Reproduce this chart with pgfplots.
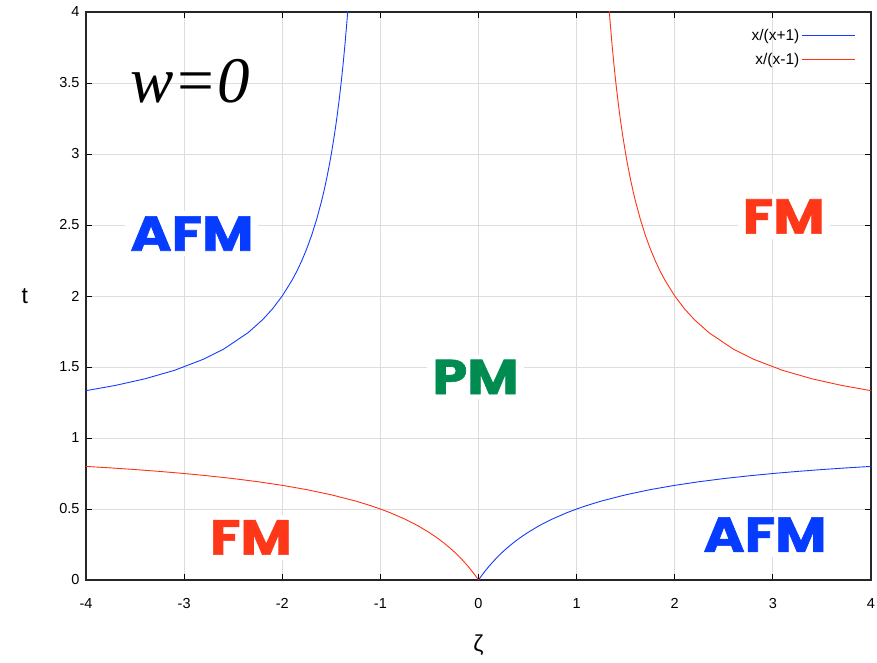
\documentclass[border=0pt]{standalone}
\usepackage{fontspec}
\setmainfont{Liberation Sans}
\newfontfamily\geo{Poppins}[BoldFeatures={FakeBold=1.2}]
\newfontfamily\tms{Liberation Serif}
\usepackage{pgfplots}
\pgfplotsset{compat=1.18}
\definecolor{cblue}{RGB}{20,60,255}
\definecolor{cred}{RGB}{255,50,20}
\definecolor{tblue}{RGB}{5,60,255}
\definecolor{tred}{RGB}{255,55,25}
\definecolor{tgreen}{RGB}{0,140,80}
\newcommand{\reg}[1]{\scalebox{1.14}[1]{#1}}
\begin{document}
\begin{tikzpicture}
\path[use as bounding box] (-86pt,-82pt) rectangle (791pt,580pt);
\begin{axis}[
  scale only axis, width=785pt, height=568pt,
  xmin=-4, xmax=4, ymin=0, ymax=4,
  xtick={-4,-3,...,4}, ytick={0,0.5,...,4},
  /pgf/number format/assume math mode=true,
  tick label style={font=\fontsize{14.5}{16}\selectfont},
  xticklabel style={yshift=-15pt},
  yticklabel style={/pgf/number format/fixed, xshift=-3pt},
  grid=major, major grid style={draw=black!13, line width=0.8pt},
  tick align=inside, major tick length=6pt,
  tick style={black, line width=0.8pt},
  axis line style={line width=1.6pt, black!85},
  xlabel={ζ}, ylabel={t},
  xlabel style={font=\fontsize{23}{25}\selectfont, at={(axis description cs:0.5,-0.114)}, anchor=center},
  ylabel style={font=\fontsize{23}{25}\selectfont, at={(axis description cs:-0.078,0.5)}, anchor=center, rotate=-90},
  legend plot pos=right,
  legend style={draw=none, fill=none, at={(axis description cs:0.984,0.977)}, anchor=north east,
     font=\fontsize{15.5}{17}\selectfont, row sep=7pt, cells={anchor=east}},
  legend image code/.code={\path (0pt,0pt) -- (53pt,0pt); \draw[#1, line width=0.8pt] (9pt,0pt) -- (53pt,0pt);},
  clip=true,
]
\addplot[cblue, line width=0.9pt] coordinates {
(-4,1.3333)(-3.7,1.3704)(-3.4,1.4167)(-3.1,1.4762)(-2.8,1.5556)(-2.6,1.625)(-2.35,1.7407)(-2.2,1.8333)(-2.1,1.9091)(-2,2)(-1.9,2.1111)(-1.85,2.1765)(-1.8,2.25)(-1.75,2.3333)(-1.7,2.4286)(-1.65,2.5385)(-1.6,2.6667)(-1.58,2.7241)(-1.55,2.8182)(-1.52,2.9231)(-1.5,3)(-1.47,3.1277)(-1.45,3.2222)(-1.44,3.2727)(-1.42,3.381)(-1.4,3.5)(-1.38,3.6316)(-1.36,3.7778)(-1.34,3.9412)(-1.3333,4)(-1.32,4.125)};
\addlegendentry{x/(x+1)}
\addplot[cred, line width=0.9pt] coordinates {
(1.32,4.125)(1.3333,4)(1.34,3.9412)(1.36,3.7778)(1.38,3.6316)(1.4,3.5)(1.42,3.381)(1.44,3.2727)(1.45,3.2222)(1.47,3.1277)(1.5,3)(1.52,2.9231)(1.55,2.8182)(1.58,2.7241)(1.6,2.6667)(1.65,2.5385)(1.7,2.4286)(1.75,2.3333)(1.8,2.25)(1.85,2.1765)(1.9,2.1111)(2,2)(2.1,1.9091)(2.2,1.8333)(2.35,1.7407)(2.6,1.625)(2.8,1.5556)(3.1,1.4762)(3.4,1.4167)(3.7,1.3704)(4,1.3333)};
\addlegendentry{x/(x-1)}
\addplot[cblue, line width=0.9pt, forget plot] coordinates {
(0,0)(0.005,0.005)(0.01,0.0099)(0.02,0.0196)(0.03,0.0291)(0.05,0.0476)(0.07,0.0654)(0.1,0.0909)(0.15,0.1304)(0.2,0.1667)(0.25,0.2)(0.3,0.2308)(0.35,0.2593)(0.4,0.2857)(0.45,0.3103)(0.5,0.3333)(0.6,0.375)(0.65,0.3939)(0.75,0.4286)(0.9,0.4737)(1,0.5)(1.1,0.5238)(1.25,0.5556)(1.5,0.6)(1.75,0.6364)(2,0.6667)(2.25,0.6923)(2.5,0.7143)(2.75,0.7333)(3,0.75)(3.25,0.7647)(3.5,0.7778)(3.75,0.7895)(4,0.8)};
\addplot[cred, line width=0.9pt, forget plot] coordinates {
(-4,0.8)(-3.75,0.7895)(-3.5,0.7778)(-3.25,0.7647)(-3,0.75)(-2.75,0.7333)(-2.5,0.7143)(-2.25,0.6923)(-2,0.6667)(-1.75,0.6364)(-1.5,0.6)(-1.25,0.5556)(-1.1,0.5238)(-1,0.5)(-0.9,0.4737)(-0.75,0.4286)(-0.65,0.3939)(-0.6,0.375)(-0.5,0.3333)(-0.45,0.3103)(-0.4,0.2857)(-0.35,0.2593)(-0.3,0.2308)(-0.25,0.2)(-0.2,0.1667)(-0.15,0.1304)(-0.1,0.0909)(-0.07,0.0654)(-0.05,0.0476)(-0.03,0.0291)(-0.02,0.0196)(-0.01,0.0099)(-0.005,0.005)(0,0)};
\node[fill=white, inner sep=5pt, text=tblue, font=\geo\bfseries\fontsize{49}{52}\selectfont] at (axis cs:-2.92,2.44) {\reg{AFM}};
\node[fill=white, inner sep=5pt, text=tred, font=\geo\bfseries\fontsize{49}{52}\selectfont] at (axis cs:3.11,2.56) {\reg{FM}};
\node[fill=white, inner sep=5pt, text=tgreen, font=\geo\bfseries\fontsize{49}{52}\selectfont] at (axis cs:-0.03,1.43) {\reg{PM}};
\node[fill=white, inner sep=5pt, text=tred, font=\geo\bfseries\fontsize{49}{52}\selectfont] at (axis cs:-2.32,0.30) {\reg{FM}};
\node[fill=white, inner sep=5pt, text=tblue, font=\geo\bfseries\fontsize{49}{52}\selectfont] at (axis cs:2.92,0.32) {\reg{AFM}};
\node[text=black, inner sep=0pt, font=\tms\itshape\fontsize{65}{68}\selectfont] at (axis cs:-2.94,3.51) {w=0};
\end{axis}
\end{tikzpicture}
\end{document}
